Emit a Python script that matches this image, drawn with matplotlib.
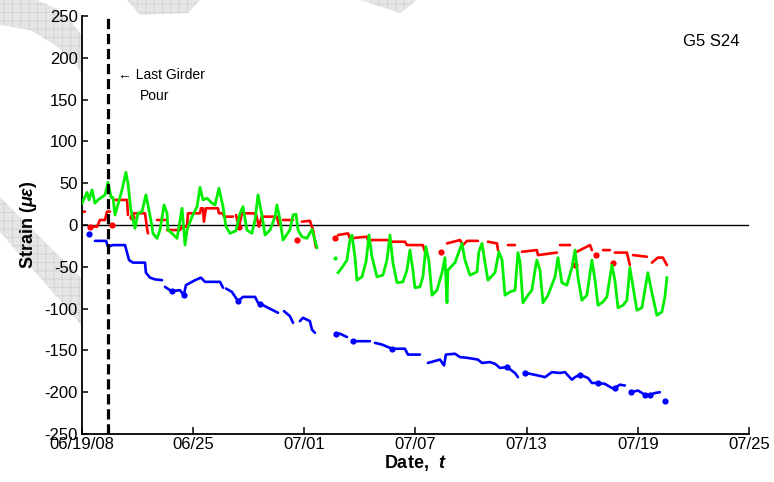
import numpy as np
import matplotlib
matplotlib.use("Agg")
import matplotlib.pyplot as plt
import matplotlib.dates as mdates
from matplotlib.patches import Polygon
from datetime import datetime

plt.rcParams['font.family'] = ['Liberation Sans', 'DejaVu Sans']
plt.rcParams['mathtext.fontset'] = 'custom'
plt.rcParams['mathtext.rm'] = 'Liberation Sans:bold'
plt.rcParams['mathtext.it'] = 'Liberation Sans:italic:bold'
plt.rcParams['mathtext.bf'] = 'Liberation Sans:bold'
plt.rcParams['hatch.linewidth'] = 0.6

nan = np.nan
# ---- data: time in days after 06/19/08 00:00, strain in microstrain ----
blue_t = [0.70, 1.30, 1.40, 1.67, 2.32, 2.43, 2.54, 2.75, 3.40, 3.45, 3.67, 3.94, 4.32, nan,
          4.48, 4.75, 4.86, 5.29, 5.49, 5.61, 6.10, 6.42, 6.64, 7.45, 7.61, nan,
          7.77, 8.09, 8.42, 8.69, 9.34, 9.50, 9.61, 10.04, 10.58, nan,
          10.90, 11.22, 11.39, nan, 11.76, 11.93, 12.30, 12.41, 12.57, nan,
          13.71, 13.92, 14.30, nan, 14.62, 14.89, 15.54, nan, 15.81, 16.19, 16.73, 17.05, 17.43,
          17.59, 18.24, nan, 18.67, 19.32, 19.54, 19.64, 20.13, 20.40, 20.83, 21.37, 21.59,
          22.02, 22.29, 22.56, 22.94, 23.37, 23.53, nan, 23.91, 24.18, 24.61, 24.99, 25.36,
          25.80, 26.07, 26.44, 26.61, 26.88, 27.31, 27.52, 27.85, 28.22, 28.60, 28.76, 29.03,
          29.30, nan, 29.63, 30.01, 30.38, 30.65, 30.92, 31.19]
blue_v = [-19, -19, -26, -24, -24, -33, -42, -45, -45, -57, -63, -65, -66, nan,
          -74, -78, -79, -78, -84, -72, -66, -63, -68, -68, -75, nan,
          -76, -80, -91, -86, -86, -93, -94, -99, -105, nan,
          -103, -109, -117, nan, -115, -111, -115, -125, -129, nan,
          -130, -130, -134, nan, -139, -139, -139, nan, -141, -143, -148, -148, -148,
          -155, -155, nan, -165, -161, -168, -155, -154, -158, -159, -161, -165,
          -164, -166, -171, -170, -177, -182, nan, -177, -178, -180, -182, -176,
          -177, -176, -185, -182, -179, -183, -189, -189, -190, -195, -195, -191,
          -192, nan, -200, -198, -203, -203, -201, -200]
blue_dot_t = [0.39, 4.86, 5.49, 8.42, 9.61, 13.71, 14.62, 16.73, 22.94, 23.91, 26.88,
              27.85, 28.76, 29.63, 30.38, 30.65, 31.46]
blue_dot_v = [-11, -79, -84, -91, -94, -130, -139, -148, -170, -177, -179,
              -189, -195, -200, -203, -203, -210]

red_t = [0.00, 0.16, nan, 0.43, 0.54, 0.81, 0.97, 1.24, 1.35, 1.51, nan,
         1.78, 2.43, 2.48, nan, 2.70, 2.81, 3.40, 3.51, 3.56, nan, 4.05, 4.48, nan,
         4.59, 5.29, 5.40, 5.67, 5.72, 6.37, 6.42, 6.53, 6.58, 6.69, 7.34, 7.39, 7.61, 7.66,
         8.15, nan, 8.31, 8.47, 8.63, 9.23, 9.39, 9.55, 9.71, 10.52, 10.63, nan, 10.85, 11.39,
         nan, 11.87, 12.30, 12.47, 12.63, nan,
         13.82, 14.36, 14.46, 15.38, 15.43, 16.62, 16.73, 17.43, 17.54, 18.40, 18.51, nan,
         19.16, nan, 19.70, 20.40, 20.56, 20.78, 21.37, nan, 21.91, 22.40, 22.45, nan,
         22.99, 23.37, nan, 23.75, 24.55, 24.61, 25.63, nan, 25.80, 26.34, nan, 26.71, 27.42,
         27.52, nan, 28.12, 28.49, nan, 28.76, 29.41, 29.57, nan, 29.74, 30.49, nan,
         30.76, 31.08, 31.35, 31.57]
red_v = [16, 16, nan, -2, -2, -2, 6, 6, 16, 16, nan,
         30, 30, 12, nan, 10, 14, 14, -4, -10, nan, 6, 6, nan,
         -6, -6, -2, -2, 14, 14, 20, 20, 4, 20, 20, 14, 14, 10,
         10, nan, 12, -2, 14, 14, 13, -2, 10, 10, 0, nan, 6, 6,
         nan, 4, 5, -6, -27, nan,
         -12, -10, -16, -14, -18, -18, -20, -20, -24, -24, -32, nan,
         -26, nan, -22, -18, -24, -19, -19, nan, -20, -22, -30, nan,
         -24, -24, nan, -32, -30, -36, -33, nan, -24, -24, nan, -32, -24,
         -30, nan, -30, -30, nan, -33, -33, -48, nan, -36, -38, nan,
         -45, -39, -39, -48]
red_dot_t = [0.43, 1.62, 2.70, 8.47, 11.60, 13.65, 19.37, 26.61, 27.74, 28.66]
red_dot_v = [-2, 0, 10, -2, -18, -16, -32, -48, -36, -45]

green_t = [0.00, 0.27, 0.38, 0.54, 0.70, 0.86, 1.24, 1.40, 1.57, 1.67, 1.78, 2.05, 2.16,
           2.37, 2.48, 2.64, 2.86, 3.02, 3.24, 3.45, 3.56, 3.78, 3.83, 4.05, 4.21, 4.43,
           4.59, 4.64, 4.86, 5.13, 5.40, 5.56, 5.67, 5.94, 6.21, 6.37, 6.53, 6.75, 7.02,
           7.18, 7.39, 7.61, 7.77, 7.99, 8.31, 8.53, 8.69, 8.90, 9.17, 9.34, 9.50, 9.71,
           9.88, 10.15, 10.42, 10.52, 10.69, 10.85, 11.22, 11.39, 11.55, 11.66, 11.87,
           12.14, 12.41, 12.68, nan,
           13.82, 14.03, 14.30, 14.46, 14.57, 14.73, 14.84, 15.11, 15.33, 15.49, 15.65,
           15.92, 16.24, 16.46, 16.62, 16.78, 17.00, 17.32, 17.54, 17.70, 17.86, 17.97,
           18.24, 18.40, 18.56, 18.73, 18.89, 19.16, 19.43, 19.59, 19.70, 19.75, 20.13,
           20.51, 20.67, 20.94, 21.32, 21.42, 21.59, 21.75, 21.91, 22.29, 22.50, 22.67,
           22.83, 23.10, 23.37, 23.53, 23.64, 23.80, 24.07, 24.28, 24.45, 24.55, 24.72,
           24.88, 25.15, 25.53, 25.69, 25.90, 26.17, 26.44, 26.61, 26.77, 26.98, 27.25,
           27.52, 27.69, 27.85, 28.12, 28.33, 28.60, 28.76, 28.93, 29.20, 29.41, 29.57,
           29.74, 29.95, 30.22, 30.54, 30.76, 31.03, 31.30, 31.46, 31.57]
green_v = [26, 39, 30, 42, 26, 30, 36, 51, 33, 33, 12, 33, 42,
           63, 50, 18, -4, 14, 16, 36, 24, -2, -10, -16, -6, 24,
           14, -6, -10, -16, 20, -24, -6, 10, 22, 45, 30, 32, 26,
           24, 44, 22, -2, -10, -7, 14, 22, -6, -10, 6, 36, 12,
           -12, -6, 10, 24, 6, -18, -6, 12, 13, -6, -14,
           -16, -5, -27, nan,
           -57, -51, -42, -18, -12, -38, -66, -62, -44, -12, -38,
           -62, -60, -42, -12, -45, -69, -68, -54, -30, -54, -75,
           -74, -62, -26, -44, -84, -78, -57, -39, -93, -54, -45,
           -22, -42, -60, -56, -32, -22, -45, -66, -57, -32, -42,
           -84, -80, -78, -33, -44, -93, -84, -78, -54, -42, -54,
           -93, -84, -62, -39, -69, -72, -51, -30, -63, -90, -84,
           -42, -66, -96, -92, -86, -48, -66, -99, -96, -90, -51,
           -74, -102, -99, -57, -81, -108, -104, -86, -63]
green_dot_t = [13.65]
green_dot_v = [-39]

pour_t = 1.42
tick_days = [0, 6, 12, 18, 24, 30, 36]
tick_labels = ['06/19/08', '06/25', '07/01', '07/07', '07/13', '07/19', '07/25']
y_ticks = [250, 200, 150, 100, 50, 0, -50, -100, -150, -200, -250]

base = mdates.date2num(datetime(2008, 6, 19))
def tx(a):
    return base + np.asarray(a, dtype=float)

W, H = 774, 482
fig = plt.figure(figsize=(W / 100, H / 100), dpi=100)
fig.patch.set_facecolor('white')

# background watermark shapes (figure pixel coords)
def px(pts):
    return [(x / W, 1 - y / H) for x, y in pts]
shapes = [
    [(0, 0), (37, 0), (55, 8), (70, 20), (84, 38), (84, 76), (72, 60), (55, 45), (30, 30), (0, 25)],
    [(0, 197), (84, 281), (84, 328), (0, 232)],
    [(127, 0), (200, 0), (188, 13), (140, 15)],
    [(360, 0), (417, 0), (400, 13)],
]
for s in shapes:
    fig.patches.append(Polygon(px(s), closed=True, transform=fig.transFigure,
                               facecolor='#e6e6e6', edgecolor='#d2d2d2', hatch='++',
                               linewidth=0, zorder=-10))

ax = fig.add_axes([82 / W, 1 - 434 / H, (749 - 82) / W, (434 - 16) / H])
ax.set_facecolor('white')

ax.axhline(0, color='black', lw=1.0, zorder=1)
vl = ax.axvline(tx(pour_t), color='black', lw=2.3, zorder=5)
vl.set_dashes((3.2, 1.5))

ms = 4.5
ax.plot(tx(red_t), red_v, color='#ff0000', lw=1.9, zorder=2, solid_capstyle='round')
ax.plot(tx(red_dot_t), red_dot_v, 'o', color='#ff0000', ms=ms, mec='none', zorder=2)
ax.plot(tx(green_t), green_v, color='#00ee00', lw=2.0, zorder=3, solid_joinstyle='round')
ax.plot(tx(green_dot_t), green_dot_v, 'o', color='#00ee00', ms=3, mec='none', zorder=3)
ax.plot(tx(blue_t), blue_v, color='#0000ff', lw=1.9, zorder=4, solid_capstyle='round')
ax.plot(tx(blue_dot_t), blue_dot_v, 'o', color='#0000ff', ms=ms, mec='none', zorder=4)

ax.set_xlim(tx(0), tx(36))
ax.set_ylim(-250, 250)
ax.set_xticks(tx(tick_days))
ax.set_xticklabels(tick_labels)
ax.set_yticks(y_ticks)
ax.set_yticklabels([str(v) for v in y_ticks])

for side in ['top', 'right']:
    ax.spines[side].set_visible(False)
for side in ['left', 'bottom']:
    ax.spines[side].set_linewidth(1.3)
ax.tick_params(axis='y', direction='in', length=4, width=1.1, labelsize=12, pad=3)
ax.tick_params(axis='x', direction='in', length=5, width=1.1, labelsize=12, pad=2)

ax.set_ylabel(r'Strain ($\mu\varepsilon$)', fontsize=13, fontweight='bold', labelpad=4)
ax.set_xlabel(r'Date,  $t$', fontsize=13, fontweight='bold', labelpad=1)

fig.text(118 / W, 1 - 75 / H, '\u2190 Last Girder', fontsize=10, va='center', ha='left')
fig.text(140 / W, 1 - 96 / H, 'Pour', fontsize=10, va='center', ha='left')
fig.text(683 / W, 1 - 41 / H, 'G5 S24', fontsize=12, va='center', ha='left')

fig.savefig('out.png', dpi=100)
